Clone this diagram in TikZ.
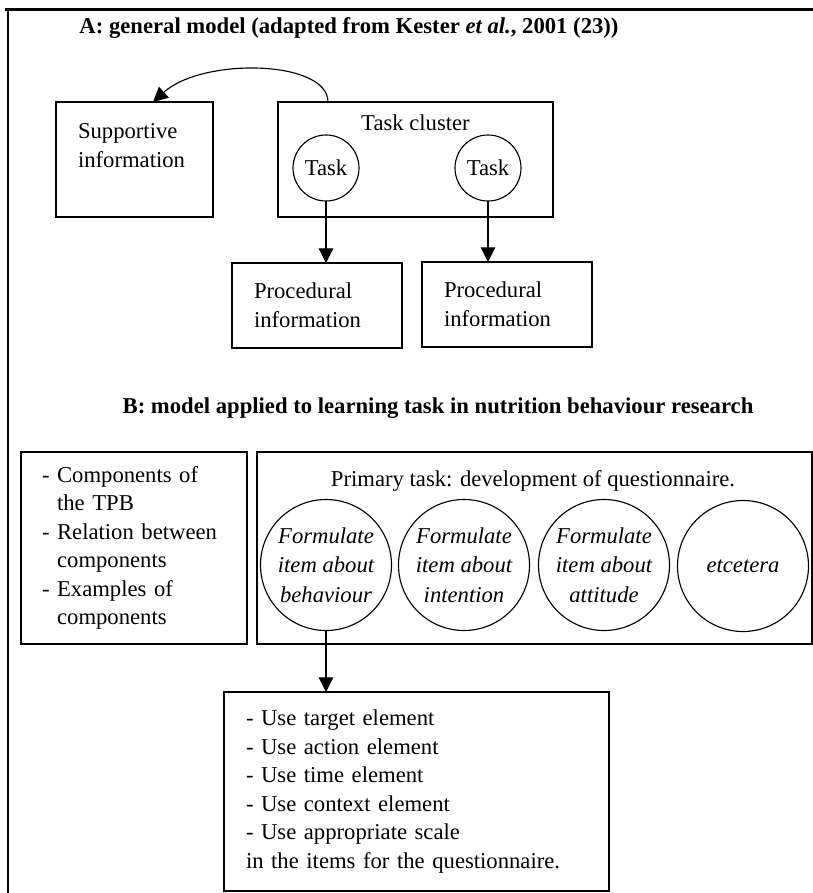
\documentclass[tikz,border=0pt]{standalone}
\usepackage{fontspec}
\setmainfont{Liberation Serif}
\usetikzlibrary{arrows.meta,calc}
\hyphenpenalty=10000
\exhyphenpenalty=10000
% one drawing unit is one pixel of the 813 x 893 sheet
\def\pxu{0.75pt}
\begin{document}
\begin{tikzpicture}[x=0.75pt,y=-0.75pt,
  every node/.style={inner sep=0pt, outer sep=0pt},
  body/.style={font=\fontsize{17}{21.4}\selectfont},
  heading/.style={font=\fontsize{17}{19}\selectfont\bfseries},
  box/.style={draw, rectangle, line width=1.1pt, body},
  bubble/.style={draw, circle, line width=0.85pt, body},
  itemtext/.style={font=\fontsize{17}{22.2}\selectfont\itshape, align=center},
  arr/.style={line width=0.85pt, -{Triangle[width=11pt,length=11pt]}}
]
\useasboundingbox (0,0) rectangle (813,893);

% frame lines
\draw[line width=2.2pt] (5,9.5) -- (813,9.5);
\draw[line width=1.6pt] (8,9) -- (8,893);

% ---------- A: general model ----------
\node[heading, anchor=base] (titleA) at (349,33)
  {A: general model (adapted from Kester \textit{et al.}, 2001 (23))};

\node[box, minimum width=157*\pxu, minimum height=115*\pxu,
      text width=113*\pxu, align=left] (support) at (134.5,159.5)
  {Supportive\\information\\\mbox{}};

\node[box, minimum width=275*\pxu, minimum height=115*\pxu] (cluster) at (415.5,159.5) {};
\node[body, anchor=base] (clustertitle) at (415.5,130) {Task cluster};

\node[bubble, minimum size=66*\pxu] (task1) at (326,168) {Task};
\node[bubble, minimum size=66*\pxu] (task2) at (488,168) {Task};

\node[box, minimum width=170*\pxu, minimum height=85*\pxu,
      text width=126*\pxu, align=left] (proc1) at (317,305.5)
  {Procedural\\information};
\node[box, minimum width=170*\pxu, minimum height=85*\pxu,
      text width=126*\pxu, align=left] (proc2) at (507,304.5)
  {Procedural\\information};

\coordinate (arcfrom) at ($(cluster.north west)+(50,0)$);
\coordinate (arcto) at ($(support.north)+(18.5,0)$);
\draw[arr] (arcfrom) .. controls ($(arcfrom)+(0,-42)$) and ($(arcto)+(50,-45)$) .. (arcto);

\draw[arr] (task1.south) -- (task1.south |- proc1.north);
\draw[arr] (task2.south) -- (task2.south |- proc2.north);

% ---------- B: applied model ----------
\node[heading, anchor=base] (titleB) at (438,413)
  {B: model applied to learning task in nutrition behaviour research};

\node[box, minimum width=226*\pxu, minimum height=192*\pxu,
      text width=184*\pxu, align=left] (theory) at (134,548)
  {- Components of\\\phantom{- }the TPB\\- Relation between\\\phantom{- }components\\- Examples of\\\phantom{- }components};

\node[box, minimum width=555*\pxu, minimum height=192*\pxu] (primary) at (534.5,548) {};
\node[body, anchor=base] (primarytitle) at (533,486)
  {Primary task: development of questionnaire.};

\node[bubble, minimum size=131*\pxu, itemtext] (sub1) at (326,565)
  {Formulate\\item about\\behaviour};
\node[bubble, minimum size=131*\pxu, itemtext] (sub2) at (464,565)
  {Formulate\\item about\\intention};
\node[bubble, minimum size=131*\pxu, itemtext] (sub3) at (604,565)
  {Formulate\\item about\\attitude};
\node[bubble, minimum size=131*\pxu, itemtext] (sub4) at (743,566) {etcetera};

\node[box, minimum width=385*\pxu, minimum height=199*\pxu,
      text width=341*\pxu, align=left] (rules) at (416.5,791.5)
  {- Use target element\\- Use action element\\- Use time element\\- Use context element\\- Use appropriate scale\\in the items for the questionnaire.};

\draw[arr] (sub1.south) -- (sub1.south |- rules.north);
\end{tikzpicture}
\end{document}
